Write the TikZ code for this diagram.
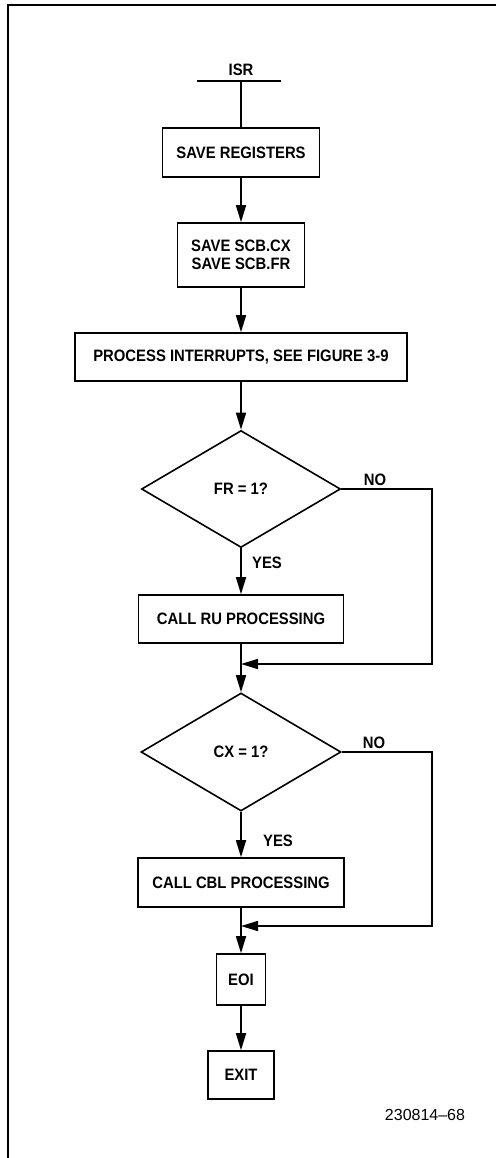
\documentclass[tikz,border=0pt]{standalone}
\usepackage{fontspec}
\setmainfont{Liberation Sans}
\newfontfamily\flowfont{Liberation Sans}[FakeStretch=0.9]
\usetikzlibrary{arrows.meta, shapes.geometric}

\begin{document}
\begin{tikzpicture}[x=1pt, y=-1pt,
    procbox/.style={draw, line width=1.6pt, inner sep=0pt, align=center,
        font=\flowfont\fontsize{16.5}{18.5}\selectfont\bfseries},
    decision/.style={draw, diamond, line width=1.6pt, inner sep=0pt, aspect=1.7,
        minimum width=199pt, minimum height=117pt,
        font=\flowfont\fontsize{16.5}{18.5}\selectfont\bfseries},
    lbl/.style={inner sep=0pt, font=\flowfont\fontsize{16.5}{18.5}\selectfont\bfseries},
    flow/.style={line width=1.6pt, -{Triangle[length=17pt,width=10pt]}},
    plain/.style={line width=1.6pt}]
        \useasboundingbox (0,0) rectangle (496,1158);

        % page frame (top and left edge only)
        \draw[line width=2pt] (7.5,1158) -- (7.5,5) -- (496,5);

        % Entry
        \node[lbl] (isr) at (241,70) {ISR};
        \draw[plain] (197,81) -- (281,81);
        \coordinate (isrbar) at (241,81);

        % Boxes and decisions
        \node[procbox, minimum width=157pt, minimum height=49pt] (regs) at (241,152.5) {SAVE REGISTERS};
        \node[procbox, minimum width=127pt, minimum height=64pt] (savescb) at (241,255) {SAVE SCB.CX\\SAVE SCB.FR};
        \node[procbox, minimum width=332pt, minimum height=48pt] (procint) at (241,357) {PROCESS INTERRUPTS, SEE FIGURE 3-9};
        \node[decision] (frtest) at (241,489) {FR = 1?};
        \node[procbox, minimum width=205pt, minimum height=48pt] (callru) at (241,619) {CALL RU PROCESSING};
        \node[decision, minimum width=200pt, minimum height=118pt] (cxtest) at (241,752) {CX = 1?};
        \node[procbox, minimum width=206pt, minimum height=49pt] (callcbl) at (241,882.5) {CALL CBL PROCESSING};
        \node[procbox, minimum width=49pt, minimum height=51pt] (eoi) at (241,979.5) {EOI};
        \node[procbox, minimum width=66pt, minimum height=48pt] (exit) at (241,1075) {EXIT};

        % Branch labels
        \node[lbl] (yes1) at (267,563) {YES};
        \node[lbl] (no1) at (375,480) {NO};
        \node[lbl] (yes2) at (278,841) {YES};
        \node[lbl] (no2) at (374,743) {NO};

        % Return points of the NO branches
        \coordinate (noturn1) at (432,489);
        \coordinate (noback1) at (432,664);
        \coordinate (merge1) at (241,664);
        \coordinate (noturn2) at (432,752);
        \coordinate (noback2) at (432,926);
        \coordinate (merge2) at (241,926);

        % Main flow
        \draw[plain] (isrbar) -- (regs);
        \draw[flow] (regs) -- (savescb);
        \draw[flow] (savescb) -- (procint);
        \draw[flow] (procint) -- (frtest);
        \draw[flow] (frtest) -- (callru);
        \draw[flow] (callru) -- (cxtest);
        \draw[flow] (cxtest) -- (callcbl);
        \draw[flow] (callcbl) -- (eoi);
        \draw[flow] (eoi) -- (exit);

        % NO branches
        \draw[flow] (frtest.east) -- (noturn1) -- (noback1) -- (merge1);
        \draw[flow] (cxtest.east) -- (noturn2) -- (noback2) -- (merge2);

        % Figure number
        \node[inner sep=0pt, font=\fontsize{16}{18}\selectfont] (fignum) at (425,1115) {230814–68};
    \end{tikzpicture}
\end{document}
